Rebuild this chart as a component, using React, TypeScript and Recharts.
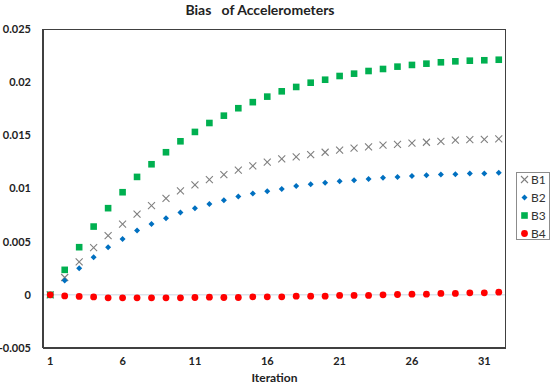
import React from "react";
import {
  ComposedChart,
  Scatter,
  XAxis,
  YAxis,
  ReferenceLine,
  Legend,
} from "recharts";

const iterations = [
  1, 2, 3, 4, 5, 6, 7, 8, 9, 10, 11, 12, 13, 14, 15, 16,
  17, 18, 19, 20, 21, 22, 23, 24, 25, 26, 27, 28, 29, 30, 31, 32,
];

const b1 = [
  0, 0.00163, 0.0031, 0.00445, 0.00557, 0.00664, 0.00758, 0.00839, 0.00908,
  0.00977, 0.01034, 0.01084, 0.01131, 0.01172, 0.01212, 0.01247, 0.01278,
  0.01297, 0.01319, 0.01341, 0.0136, 0.01379, 0.01391, 0.01407, 0.01416,
  0.01426, 0.01435, 0.01444, 0.01454, 0.0146, 0.01463, 0.01466,
];

const b2 = [
  0, 0.00134, 0.00251, 0.00354, 0.00448, 0.00526, 0.00605, 0.00667, 0.00721,
  0.00774, 0.00815, 0.00855, 0.0089, 0.00924, 0.00952, 0.00975, 0.00996,
  0.01024, 0.0104, 0.01053, 0.01069, 0.01078, 0.0109, 0.01102, 0.01109,
  0.01118, 0.01125, 0.01131, 0.01134, 0.0114, 0.0114, 0.01147,
];

const b3 = [
  0, 0.00235, 0.00448, 0.00642, 0.00815, 0.00965, 0.01109, 0.01228, 0.01341,
  0.01444, 0.01532, 0.01616, 0.01685, 0.01755, 0.01812, 0.01864, 0.01914,
  0.01955, 0.01995, 0.02023, 0.02058, 0.0208, 0.02105, 0.02124, 0.02146,
  0.02162, 0.02174, 0.02187, 0.02196, 0.02202, 0.02206, 0.02211,
];

const b4 = [
  0, -0.0001, -0.00015, -0.0002, -0.00028, -0.00028, -0.00028, -0.00028,
  -0.00028, -0.00028, -0.00025, -0.00022, -0.00025, -0.00025, -0.00019,
  -0.00019, -0.00019, -0.00013, -0.00013, -0.00013, -0.00006, -0.00006,
  -0.00006, 0, 0.00003, 0.00006, 0.00006, 0.00013, 0.00013, 0.00019, 0.00019,
  0.00025,
];

const yTicks = [-0.005, 0, 0.005, 0.01, 0.015, 0.02, 0.025];
const xTicks = [1, 6, 11, 16, 21, 26, 31];
const seriesNames = ["B1", "B2", "B3", "B4"];
const yDomain = [-0.005, 0.025];

const FONT = "Lato, 'Open Sans', sans-serif";
const AXIS = "#404040";
const COLORS = { B1: "#7f7f7f", B2: "#0070c0", B3: "#00b050", B4: "#ff0000" };

// chart box
const W = 550;
const H = 384;
const MARGIN = { top: 29, right: 44, left: 8, bottom: 0 };
const Y_AXIS_W = 35;
const X_AXIS_H = 36;

const data = iterations.map((it, i) => ({
  it,
  B1: b1[i],
  B2: b2[i],
  B3: b3[i],
  B4: b4[i],
}));

function Marker({ name, cx, cy }: { name: string; cx: number; cy: number }) {
  if (name === "B1") {
    const s = 3.5;
    return (
      <g stroke={COLORS.B1} strokeWidth={1.1}>
        <line x1={cx - s} y1={cy - s} x2={cx + s} y2={cy + s} />
        <line x1={cx - s} y1={cy + s} x2={cx + s} y2={cy - s} />
      </g>
    );
  }
  if (name === "B2") {
    const s = 3;
    return (
      <polygon
        points={`${cx},${cy - s} ${cx + s},${cy} ${cx},${cy + s} ${cx - s},${cy}`}
        fill={COLORS.B2}
      />
    );
  }
  if (name === "B3") {
    return <rect x={cx - 3.3} y={cy - 3.3} width={6.6} height={6.6} fill={COLORS.B3} />;
  }
  return <circle cx={cx} cy={cy} r={3.4} fill={COLORS.B4} />;
}

function LegendBox() {
  return (
    <div
      style={{
        border: "1px solid #8c8c8c",
        background: "#fff",
        padding: "0 3px 0 3px",
        fontFamily: FONT,
        fontSize: 12,
        color: "#333",
        width: 26,
      }}
    >
      {seriesNames.map((n, i) => (
        <div
          key={n}
          style={{
            display: "flex",
            alignItems: "center",
            height: 12,
            marginTop: i === 0 ? 0 : 6,
          }}
        >
          <svg width={9} height={9} style={{ marginRight: 2 }}>
            <Marker name={n} cx={4.5} cy={4.5} />
          </svg>
          <span>{n}</span>
        </div>
      ))}
    </div>
  );
}

export default function App() {
  const plotLeft = MARGIN.left + Y_AXIS_W;
  const plotWidth = W - plotLeft - MARGIN.right;
  const plotHeight = H - MARGIN.top - MARGIN.bottom - X_AXIS_H;

  return (
    <div
      style={{
        position: "absolute",
        left: 0,
        top: 0,
        width: W,
        height: H,
        background: "#fff",
      }}
    >
      <div
        style={{
          position: "absolute",
          left: 0,
          top: 1,
          width: 520,
          textAlign: "center",
          fontFamily: FONT,
          fontWeight: 700,
          fontSize: 14,
          color: "#222",
          whiteSpace: "pre",
        }}
      >
        {"Bias   of Accelerometers"}
      </div>
      <ComposedChart width={W} height={H} data={data} margin={MARGIN}>
        <XAxis
          dataKey="it"
          type="category"
          scale="band"
          ticks={xTicks}
          interval={0}
          height={X_AXIS_H}
          tickSize={0}
          tickMargin={9}
          axisLine={{ stroke: AXIS, strokeWidth: 2 }}
          tick={{ fill: "#222", fontSize: 11, fontWeight: 700, fontFamily: FONT }}
          label={{
            value: "Iteration",
            position: "insideBottom",
            offset: 2,
            fill: "#222",
            fontSize: 12,
            fontWeight: 700,
            fontFamily: FONT,
          }}
        />
        <YAxis
          type="number"
          domain={yDomain}
          ticks={yTicks}
          interval={0}
          width={Y_AXIS_W}
          tickSize={0}
          tickMargin={12}
          axisLine={{ stroke: AXIS, strokeWidth: 2 }}
          tick={{ fill: "#222", fontSize: 11, fontWeight: 700, fontFamily: FONT }}
        />
        <ReferenceLine y={0} stroke="#c9d7e3" strokeWidth={1} />
        {seriesNames.map((n) => (
          <Scatter
            key={n}
            name={n}
            dataKey={n}
            isAnimationActive={false}
            shape={(p: any) => <Marker name={n} cx={p.cx} cy={p.cy} />}
          />
        ))}
        <Legend
          layout="vertical"
          align="center"
          verticalAlign="middle"
          content={() => <LegendBox />}
          wrapperStyle={{ left: 516, top: 172, width: "auto" }}
        />
      </ComposedChart>
      {/* top and right edge of the plot frame */}
      <div
        style={{
          position: "absolute",
          left: plotLeft,
          top: MARGIN.top - 0.5,
          width: plotWidth,
          height: plotHeight,
          boxSizing: "border-box",
          borderTop: `1px solid ${AXIS}`,
          borderRight: `1.5px solid ${AXIS}`,
          pointerEvents: "none",
        }}
      />
    </div>
  );
}
